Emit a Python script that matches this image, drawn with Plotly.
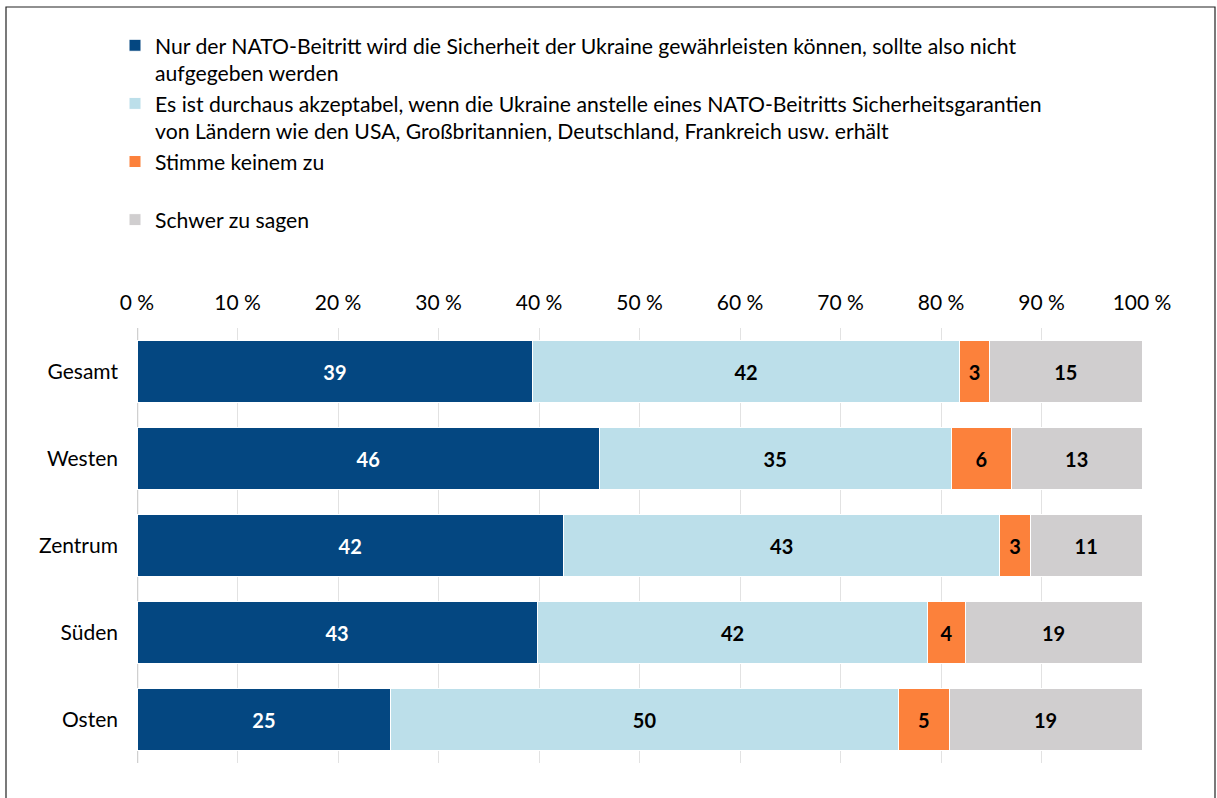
import plotly.graph_objects as go

categories = ["Gesamt", "Westen", "Zentrum", "Süden", "Osten"]
series_names = [
    "Nur der NATO-Beitritt wird die Sicherheit der Ukraine gewährleisten können, sollte also nicht<br>aufgegeben werden",
    "Es ist durchaus akzeptabel, wenn die Ukraine anstelle eines NATO-Beitritts Sicherheitsgarantien<br>von Ländern wie den USA, Großbritannien, Deutschland, Frankreich usw. erhält",
    "Stimme keinem zu<br> ",
    "Schwer zu sagen",
]
nato_only = [39, 46, 42, 43, 25]
guarantees = [42, 35, 43, 42, 50]
none_agree = [3, 6, 3, 4, 5]
hard_to_say = [15, 13, 11, 19, 19]
series_values = [nato_only, guarantees, none_agree, hard_to_say]
colors = ["#044781", "#BCDFEA", "#FC813B", "#D0CECF"]
text_colors = ["white", "black", "black", "black"]
tick_vals = [0, 10, 20, 30, 40, 50, 60, 70, 80, 90, 100]
tick_text = [f"{v} %" for v in tick_vals]

fig = go.Figure()
for name, vals, col, tcol in zip(series_names, series_values, colors, text_colors):
    fig.add_trace(go.Bar(
        y=categories, x=vals, name=name, orientation="h",
        marker=dict(color=col, line=dict(color="white", width=1)),
        text=[str(v) for v in vals], textposition="inside",
        insidetextanchor="middle",
        textfont=dict(family="Lato", size=20, color=tcol, weight="bold"),
        hoverinfo="skip",
    ))

fig.update_layout(
    barmode="stack",
    barnorm="percent",
    bargap=0.28,
    width=1217, height=798,
    margin=dict(l=137, r=75, t=328, b=35),
    paper_bgcolor="white", plot_bgcolor="white",
    font=dict(family="Lato", size=21, color="black"),
    uniformtext=dict(mode="show", minsize=10),
    legend=dict(
        x=-22/1005, xanchor="left", y=1 - 25/798, yanchor="top",
        xref="paper", yref="container",
        traceorder="normal", valign="top",
        font=dict(family="Lato", size=21.2, color="black"),
        itemwidth=30,
        bgcolor="rgba(0,0,0,0)",
    ),
    showlegend=True,
    xaxis=dict(
        side="top", range=[0, 100], tickvals=tick_vals, ticktext=tick_text,
        showgrid=True, gridcolor="#E2E2E2", gridwidth=1,
        zeroline=False, showline=False, ticks="",
        tickfont=dict(family="Lato", size=21, color="black"),
        ticklabelstandoff=13,
        fixedrange=True,
    ),
    yaxis=dict(
        autorange="reversed", showgrid=False, ticks="", showline=False,
        tickfont=dict(family="Lato", size=21, color="black"),
        ticklabelstandoff=18,
    ),
    shapes=[
        dict(type="line", xref="x", yref="paper", x0=0, x1=0, y0=0, y1=1,
             line=dict(color="#D0D0D0", width=2.5), layer="below"),
        dict(type="rect", xref="paper", yref="paper",
             x0=-131/1005, x1=1078/1005, y0=-40/435, y1=(435+321)/435,
             line=dict(color="#222222", width=1.2), fillcolor="rgba(0,0,0,0)"),
    ],
)

fig.write_html("out.html", config={"displayModeBar": False},
               post_script="document.body.style.margin='0';document.body.style.padding='0';")
